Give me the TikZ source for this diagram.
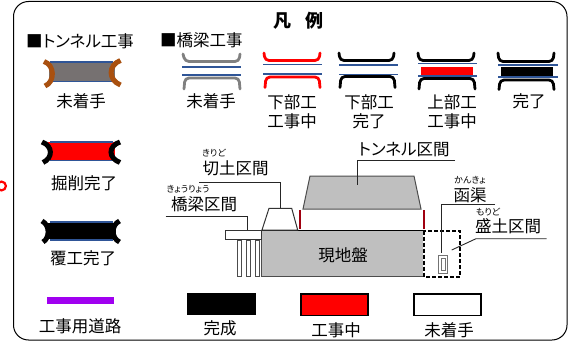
\documentclass[tikz,border=0pt]{standalone}
\usepackage{fontspec}
\setmainfont{Noto Sans CJK JP}
\newfontfamily\jpp[RawFeature={+palt}]{Noto Sans CJK JP}
\definecolor{bluel}{HTML}{2F5597}
\definecolor{brownl}{HTML}{A9500F}
\definecolor{grayf}{HTML}{767171}
\definecolor{grayl}{HTML}{808080}
\definecolor{ground}{HTML}{BFBFBF}
\definecolor{darkred}{HTML}{A00010}
\definecolor{purp}{HTML}{A000F0}
\tikzset{
 lbl/.style={inner sep=0pt,font=\fontsize{16.5}{17}\selectfont},
 hd/.style={inner sep=0pt,font=\fontsize{16.5}{17}\jpp\selectfont},
 fur/.style={inner sep=0pt,font=\fontsize{9}{10}\jpp\selectfont},
 blueline/.style={bluel,line width=1.8pt},
 archl/.style={line width=5pt},
 brl/.style={line width=2.8pt,line cap=round,rounded corners=4pt},
 leader/.style={black!85,line width=0.9pt},
 gnd/.style={draw=black!70,line width=1pt,fill=ground},
 legbox/.style={draw=black,line width=1.4pt},
}
\begin{document}
\begin{tikzpicture}[x=1pt,y=-1pt]
\useasboundingbox (0,0) rectangle (573,342);
\fill[white] (0,0) rectangle (573,342);
\begin{scope}
\clip (0,0) rectangle (10,342);
\draw[red,line width=2.2pt] (1.5,186) circle[radius=4.4];
\end{scope}
\draw[black,line width=1pt,rounded corners=15pt] (13.5,1.5) rectangle (567,340);
% headings
\node[inner sep=0pt,font=\fontsize{18}{18}\bfseries\selectfont] (title) at (298.5,21) {凡\hspace{0.8em}例};
\node[hd,anchor=west] (h1) at (26,41) {■トンネル工事};
\node[hd,anchor=west] (h2) at (160,40) {■橋梁工事};
% tunnel icons
\fill[grayf] (49,62) rectangle (115,81.5);
\draw[blueline] (50,62) -- (113,62) (50,81.5) -- (113,81.5);
\draw[brownl,archl] (44,61.5) .. controls (55,65) and (55,82) .. (45,86);
\draw[brownl,archl] (120.5,60.5) .. controls (108,65) and (108,80) .. (120.5,85);
\node[lbl] (t1) at (81,101) {未着手};
\fill[red] (48,142) rectangle (115,160);
\draw[blueline] (50,142) -- (113,142) (50,160.5) -- (113,160.5);
\draw[black,archl] (42,142) .. controls (53,146) and (53,158) .. (43,162.5);
\draw[black,archl] (120,142) .. controls (108,146) and (108,158) .. (120,162.5);
\node[lbl] (t2) at (84,183) {掘削完了};
\draw[blueline] (50,222) -- (113,222) (50,240) -- (113,240);
\fill[black] (47,223) rectangle (116,239);
\draw[black,archl] (42,221) .. controls (50,225) and (50,238) .. (43,242);
\draw[black,archl] (119.5,221) .. controls (111,225) and (111,238) .. (119.5,242);
\node[lbl] (t3) at (83,258) {覆工完了};
\fill[purp] (47,297) rectangle (114,303.5);
\node[lbl] (t4) at (80,326) {工事用道路};
% bridge: not started
\draw[grayl,brl] (183,54) -- (185,61.5) -- (239,61.5) -- (240,54);
\draw[blueline] (182,66.7) -- (241,66.7) (182,75.3) -- (241,75.3);
\draw[grayl,brl] (184,89) -- (185,78) -- (239,78) -- (240,89);
\node[lbl] (b1) at (211,101) {未着手};
% bridge: substructure in progress
\draw[red,brl] (264,53) -- (265,60.5) -- (319,60.5) -- (320,53);
\draw[blueline] (263,64.5) -- (322,64.5) (263,74) -- (322,74);
\draw[red,brl] (265,87.5) -- (266,77) -- (319,77) -- (320,87.5);
\node[lbl] (b2a) at (292,102) {下部工};
\node[lbl] (b2b) at (292,121) {工事中};
% bridge: substructure complete
\draw[black,brl] (339,53) -- (340,60.5) -- (393,60.5) -- (394,53);
\draw[blueline] (339,65) -- (398,65) (339,74.5) -- (398,74.5);
\draw[black,brl] (340,87.5) -- (341,76.5) -- (394,76.5) -- (395,87.5);
\node[lbl] (b3a) at (369,102) {下部工};
\node[lbl] (b3b) at (369,121) {完了};
% bridge: superstructure in progress
\fill[red] (421,67) rectangle (473,75);
\draw[black,brl] (418,53) -- (419,60.5) -- (473,60.5) -- (474,53);
\draw[blueline] (418,63.5) -- (477,63.5) (418,76) -- (477,76);
\draw[black,brl] (419,89) -- (420,78.5) -- (474,78.5) -- (475,89);
\node[lbl] (b4a) at (452,102) {上部工};
\node[lbl] (b4b) at (452,121) {工事中};
% bridge: complete
\fill[black] (501,67) rectangle (553,76);
\draw[black,brl] (498,53) -- (499,61.5) -- (553,61.5) -- (554,53);
\draw[blueline] (498,65) -- (558,65) (498,77) -- (558,77);
\draw[black,brl] (499,89.5) -- (500,80) -- (553,80) -- (554,89.5);
\node[lbl] (b5) at (529,101) {完了};
% section diagram
\draw[gnd] (303,209) -- (310,176) -- (414,176) -- (421,209) -- cycle;
\draw[gnd] (261.7,230) rectangle (424,276.7);
\draw[black,line width=1pt] (261.7,230) -- (424,230);
\node[lbl] (gl) at (343,255) {現地盤};
\draw[black!80,line width=1pt,fill=white] (262,230) -- (269,208.3) -- (291.7,208.3) -- (297.7,230) -- cycle;
\draw[darkred,line width=1.7pt] (300,210) -- (300,229);
\draw[darkred,line width=1.7pt] (424,210) -- (424,229);
\draw[black!80,line width=1pt,fill=white] (225,230.7) rectangle (261,239);
\foreach \px in {237.7,246.7,255.7}{
  \draw[black!70,line width=1pt,fill=white] (\px,240) rectangle ++(3.6,36.7);
}
\coordinate (la1) at (165.5,216);
\coordinate (la2) at (247.5,216);
\coordinate (la3) at (247.5,230);
\draw[leader] (la1) -- (la2) -- (la3);
\coordinate (lb1) at (199,182.3);
\coordinate (lb2) at (280.7,182.3);
\coordinate (lb3) at (280.7,208);
\draw[leader] (lb1) -- (lb2) -- (lb3);
\coordinate (lc1) at (455,160);
\coordinate (lc2) at (357,160);
\coordinate (lc3) at (357,185);
\draw[leader] (lc1) -- (lc2) -- (lc3);
\fill[white] (424,230.7) rectangle (460,276.7);
\draw[white,line width=1.6pt] (424,230.7) -- (424,276.7);
\draw[black,line width=1.6pt,dash pattern=on 4pt off 2pt] (424,230.7) rectangle (460,276.7);
\draw[black!55,line width=0.9pt,fill=white] (438,255) rectangle (447.7,273);
\draw[black!55,line width=0.9pt,fill=white] (441,258) rectangle (445,270);
\coordinate (ld1) at (495,204.3);
\coordinate (ld2) at (441,204.3);
\coordinate (ld3) at (441,252.7);
\draw[leader] (ld1) -- (ld2) -- (ld3);
\coordinate (le1) at (546.7,238.7);
\coordinate (le2) at (476,238.7);
\coordinate (le3) at (451.7,250);
\draw[leader] (le1) -- (le2) -- (le3);
\node[lbl] (s1) at (235.7,168) {切土区間};
\node[fur] (s1f) at (214,153) {きりど};
\node[lbl] (s2) at (204,204) {橋梁区間};
\node[fur] (s2f) at (188,189) {きょうりょう};
\node[hd] (s3) at (404,150) {トンネル区間};
\node[lbl] (s4) at (470,195) {函渠};
\node[fur] (s4f) at (470,180) {かんきょ};
\node[lbl] (s5) at (508,226.7) {盛土区間};
\node[fur] (s5f) at (488,212) {もりど};
% legend swatches
\fill[black] (187,292.7) rectangle (255.7,314.7);
\node[lbl] (k1) at (220,328) {完成};
\draw[legbox,fill=red] (301,294) rectangle (368,315.5);
\node[lbl] (k2) at (336,330) {工事中};
\draw[legbox,fill=white] (414,294) rectangle (481,315.5);
\node[lbl] (k3) at (449,330) {未着手};
\end{tikzpicture}
\end{document}
